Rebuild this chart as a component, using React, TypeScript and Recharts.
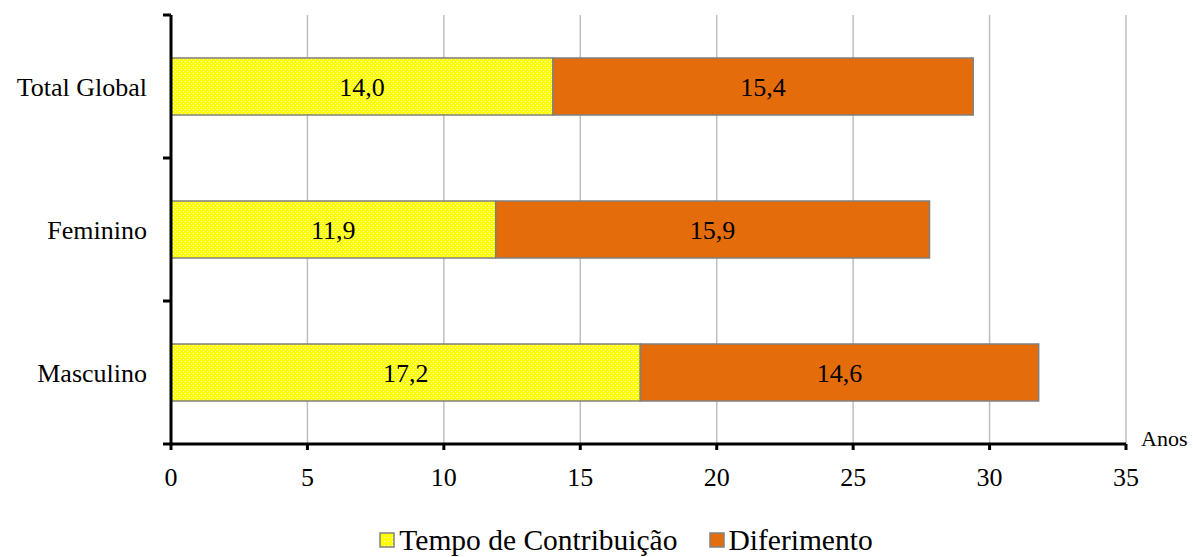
import React from 'react';
import { BarChart, Bar, XAxis, YAxis, CartesianGrid, Legend, LabelList, Label } from 'recharts';

const categories = ['Total Global', 'Feminino', 'Masculino'];
const tempoContribuicao = [14.0, 11.9, 17.2];
const diferimento = [15.4, 15.9, 14.6];
const xTicks = [0, 5, 10, 15, 20, 25, 30, 35];

const data = categories.map((name, i) => ({
  name,
  tempo: tempoContribuicao[i],
  dif: diferimento[i],
}));

const FONT = 'Liberation Serif, Times New Roman, serif';
const ORANGE = '#E46C0A';
const BORDER = '#808080';

const fmt = (v: any) => Number(v).toFixed(1).replace('.', ',');

// category ticks: label at band centre, tick marks on band edges
const CategoryTick = (props: any) => {
  const { x, y, payload, index, height } = props;
  const band = height / categories.length;
  const axisX = x + 8;
  return (
    <g>
      <line x1={axisX - 8} x2={axisX} y1={y - band / 2} y2={y - band / 2} stroke="#000" strokeWidth={3} />
      {index === categories.length - 1 && (
        <line x1={axisX - 8} x2={axisX} y1={y + band / 2} y2={y + band / 2} stroke="#000" strokeWidth={3} />
      )}
      <text x={axisX - 24} y={y} dy="0.35em" textAnchor="end" fill="#000" style={{ fontFamily: FONT, fontSize: 26 }}>
        {payload.value}
      </text>
    </g>
  );
};

const LegendBox = () => (
  <div style={{ display: 'flex', justifyContent: 'center', alignItems: 'center', fontFamily: FONT, fontSize: 29.5, color: '#000', gap: 32, lineHeight: '34px', paddingLeft: 126, paddingTop: 4 }}>
    <div style={{ display: 'flex', alignItems: 'center' }}>
      <svg width={16} height={16} style={{ marginRight: 4 }}>
        <defs>
          <pattern id="dotsLegend" width={4} height={4} patternUnits="userSpaceOnUse">
            <rect width={4} height={4} fill="#FFFF00" />
            <rect x={1} y={1} width={1} height={1} fill="#fff" />
          </pattern>
        </defs>
        <rect x={1} y={1} width={14} height={14} fill="url(#dotsLegend)" stroke={BORDER} strokeWidth={1.5} />
      </svg>
      <span>Tempo de Contribuição</span>
    </div>
    <div style={{ display: 'flex', alignItems: 'center' }}>
      <svg width={16} height={16} style={{ marginRight: 3 }}>
        <rect x={1} y={1} width={14} height={14} fill={ORANGE} stroke={BORDER} strokeWidth={1.5} />
      </svg>
      <span>Diferimento</span>
    </div>
  </div>
);

const labelStyle = { fontFamily: FONT, fontSize: 26 };

export default function App() {
  return (
    <div style={{ position: 'absolute', left: 0, top: 0, background: '#fff', fontFamily: FONT }}>
      <BarChart
        width={1193}
        height={557}
        data={data}
        layout="vertical"
        barCategoryGap="30%"
        margin={{ top: 15, right: 67, left: 0, bottom: 2 }}
        style={{ fontFamily: FONT }}
      >
        <defs>
          <pattern id="dots" width={4} height={4} patternUnits="userSpaceOnUse">
            <rect width={4} height={4} fill="#FFFF00" />
            <rect x={1} y={1} width={1} height={1} fill="#fff" />
            <rect x={3} y={3} width={1} height={1} fill="#fff" opacity={0.8} />
          </pattern>
        </defs>
        <CartesianGrid horizontal={false} stroke="#BFBFBF" strokeWidth={1.5} />
        <XAxis
          type="number"
          domain={[0, 35]}
          ticks={xTicks}
          interval={0}
          height={75}
          axisLine={{ stroke: '#000', strokeWidth: 3 }}
          tickLine={{ stroke: '#000', strokeWidth: 3 }}
          tickSize={6}
          tickMargin={18}
          tick={{ fill: '#000', style: labelStyle }}
        >
          <Label
            content={(p: any) => {
              const vb = p.viewBox;
              return (
                <text x={vb.x + vb.width + 15} y={vb.y} dy="0.1em" fill="#000" style={{ fontFamily: FONT, fontSize: 22 }}>
                  Anos
                </text>
              );
            }}
          />
        </XAxis>
        <YAxis
          type="category"
          dataKey="name"
          width={171}
          axisLine={{ stroke: '#000', strokeWidth: 3 }}
          tickLine={false}
          tick={<CategoryTick />}
        />
        <Legend verticalAlign="bottom" height={36} content={<LegendBox />} />
        <Bar dataKey="tempo" stackId="a" fill="url(#dots)" stroke={BORDER} strokeWidth={1.5} isAnimationActive={false}>
          <LabelList dataKey="tempo" position="center" formatter={fmt} fill="#000" style={labelStyle} />
        </Bar>
        <Bar dataKey="dif" stackId="a" fill={ORANGE} stroke={BORDER} strokeWidth={1.5} isAnimationActive={false}>
          <LabelList dataKey="dif" position="center" formatter={fmt} fill="#000" style={labelStyle} />
        </Bar>
      </BarChart>
    </div>
  );
}
